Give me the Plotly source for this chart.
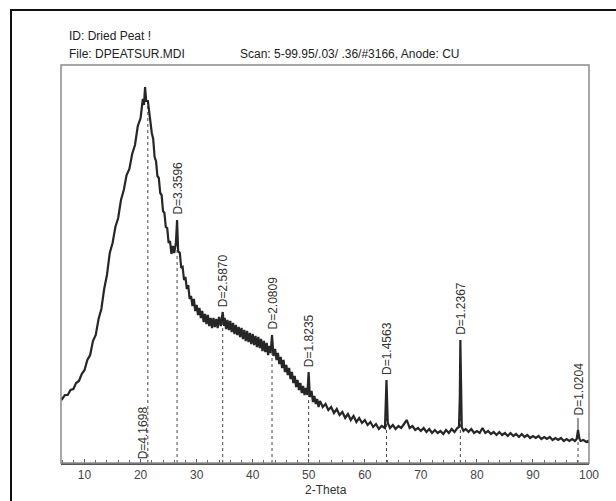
import plotly.graph_objects as go

# ---- data ----
two_theta = [5.8, 6.0, 6.5, 7.0, 7.5, 8.0, 8.5, 9.0, 9.5, 10.0, 10.5, 11.0, 11.5, 12.0, 12.5,
             13.0, 13.5, 14.0, 14.5, 15.0, 15.5, 16.0, 16.5, 17.0, 17.5, 18.0, 18.5, 19.0, 19.5,
             20.0, 20.4, 20.6, 20.8, 21.0, 21.3, 21.6, 22.0, 22.25, 22.5, 22.75, 23.0, 23.25, 23.5,
             23.75, 24.0, 24.25, 24.5, 24.75, 25.0, 25.25, 25.5, 25.75, 26.0, 26.3, 26.51, 26.7,
             27.0, 27.25, 27.5, 27.75, 28.0, 28.25, 28.5, 28.75, 29.0, 29.25, 29.5, 29.75,
             30.0, 30.25, 30.5, 30.75, 31.0, 31.25, 31.5, 31.75, 32.0, 32.25, 32.5, 32.75,
             33.0, 33.25, 33.5, 33.75, 34.0, 34.3, 34.65, 34.9, 35.0, 35.25, 35.5, 35.75,
             36.0, 36.25, 36.5, 36.75, 37.0, 37.25, 37.5, 37.75, 38.0, 38.25, 38.5, 38.75,
             39.0, 39.25, 39.5, 39.75, 40.0, 40.25, 40.5, 40.75, 41.0, 41.25, 41.5, 41.75,
             42.0, 42.25, 42.5, 42.75, 43.0, 43.2, 43.45, 43.7, 44.0, 44.25, 44.5, 44.75,
             45.0, 45.25, 45.5, 45.75, 46.0, 46.25, 46.5, 46.75, 47.0, 47.25, 47.5, 47.75,
             48.0, 48.25, 48.5, 48.75, 49.0, 49.25, 49.5, 49.75, 49.98, 50.2, 50.5, 50.75,
             51.0, 51.25, 51.5, 51.75, 52.0, 52.5, 53.0, 53.5, 54.0, 54.5, 55.0, 55.5,
             56.0, 56.5, 57.0, 57.5, 58.0, 58.5, 59.0, 59.5, 60.0, 60.5, 61.0, 61.5,
             62.0, 62.5, 63.0, 63.6, 63.87, 64.1,
             64.5, 65.0, 65.5, 66.0, 66.5, 67.0, 67.5, 68.0, 68.5, 69.0, 69.5, 70.0, 70.5, 71.0,
             71.5, 72.0, 72.5, 73.0, 73.5, 74.0, 74.5, 75.0, 75.5, 76.0, 76.5, 76.8, 76.95, 77.05,
             77.15, 77.3, 77.6, 78.0, 78.5, 79.0, 79.5, 80.0, 80.5, 81.0, 81.5, 82.0, 82.5, 83.0,
             83.5, 84.0, 84.5, 85.0, 85.5, 86.0, 86.5, 87.0, 87.5, 88.0, 88.5, 89.0, 89.5, 90.0,
             90.5, 91.0, 91.5, 92.0, 92.5, 93.0, 93.5, 94.0, 94.5, 95.0, 95.5, 96.0, 96.5, 97.0,
             97.5, 97.8, 98.04, 98.3, 98.5, 99.0, 99.5, 99.8, 100.0]
intensity = [65, 64, 68, 68, 73, 74, 80, 82, 89, 93, 103, 108, 122, 128, 144,
             154, 174, 188, 210, 220, 236, 245, 263, 273, 288, 294, 309, 318, 337,
             345, 364, 358, 376, 362, 362, 347, 330, 324, 306, 302, 287, 285, 270,
             268, 252, 250, 236, 235, 220, 222, 209, 217, 210, 220, 243, 212,
             210, 195, 196, 183, 186, 174, 178, 164, 167, 157, 164, 152,
             158, 148, 155, 145, 152, 141, 149, 139, 148, 137, 145, 135,
             145, 136, 144, 135, 146, 137, 151, 137, 145, 134, 143, 133,
             142, 131, 140, 129, 138, 128, 136, 126, 135, 124, 133, 122,
             132, 121, 130, 119, 129, 118, 127, 116, 126, 115, 124, 112,
             122, 111, 120, 108, 117, 110, 128, 107, 114, 103, 110, 99,
             106, 95, 103, 91, 98, 88, 95, 84, 91, 80, 87, 76,
             83, 73, 80, 70, 77, 68, 75, 68, 91, 66, 72, 61,
             67, 59, 64, 56, 62, 56, 59, 53, 56, 50, 54, 48,
             51, 45, 49, 43, 47, 41, 45, 40, 43, 38, 41, 36,
             39, 34, 37, 35, 83, 40,
             35, 38, 34, 37, 35, 39, 43, 35, 37, 33, 35, 32, 35, 31,
             34, 30, 33, 30, 32, 29, 33, 30, 34, 31, 35, 36, 65, 123,
             60, 36, 32, 34, 31, 34, 30, 32, 30, 35, 30, 32, 29, 31,
             28, 31, 28, 30, 27, 30, 27, 29, 26, 29, 26, 28, 25, 27,
             25, 27, 24, 26, 24, 26, 23, 25, 23, 25, 22, 24, 22, 24,
             22, 24, 33, 24, 22, 23, 21, 22, 20]

peak_2theta = [21.29, 26.51, 34.65, 43.45, 49.98, 63.87, 77.05, 98.04]
peak_d = ["D=4.1698", "D=3.3596", "D=2.5870", "D=2.0809", "D=1.8235", "D=1.4563", "D=1.2367", "D=1.0204"]
peak_height = [362, 243, 151, 128, 91, 83, 123, 33]

x_ticks = [10, 20, 30, 40, 50, 60, 70, 80, 90, 100]

title_id = "ID: Dried Peat !"
title_file = "File: DPEATSUR.MDI"
title_scan = "Scan: 5-99.95/.03/ .36/#3166, Anode: CU"
x_title = "2-Theta"

FONT = "Liberation Sans Narrow, Arial Narrow, Liberation Sans, Arial, sans-serif"

fig = go.Figure()
fig.add_trace(go.Scatter(x=two_theta, y=intensity, mode="lines",
                         line=dict(color="#262626", width=2.2), hoverinfo="skip",
                         showlegend=False))

shapes = []
annotations = []
for i, (px, d, h) in enumerate(zip(peak_2theta, peak_d, peak_height)):
    shapes.append(dict(type="line", xref="x", yref="y", x0=px, x1=px, y0=0, y1=h,
                       line=dict(color="#444", width=1, dash="dot"), layer="below"))
    if i == 0:
        annotations.append(dict(x=px, y=0, xref="x", yref="y", text=d, textangle=-90,
                                showarrow=False, xanchor="center", yanchor="bottom",
                                xshift=-5, yshift=2,
                                font=dict(family=FONT, size=12, color="#333")))
    else:
        gap = 12 if i == len(peak_d) - 1 else 3
        if gap > 3:
            shapes.append(dict(type="line", xref="x", yref="y", x0=px, x1=px, y0=h, y1=h + gap,
                               line=dict(color="#333", width=1)))
        annotations.append(dict(x=px, y=h, xref="x", yref="y", text=d, textangle=-90,
                                showarrow=False, xanchor="center", yanchor="bottom",
                                yshift=gap,
                                font=dict(family=FONT, size=12, color="#333")))

# plot frame (gray) and outer black border
shapes.append(dict(type="rect", xref="paper", yref="paper", x0=0, x1=1, y0=0, y1=1,
                   line=dict(color="#8a8a8a", width=1.5)))
shapes.append(dict(type="rect", xref="paper", yref="paper",
                   x0=(11 - 61) / 528, x1=(625 - 61) / 528,
                   y0=-(510 - 463) / 398, y1=1 + (65 - 10) / 398,
                   line=dict(color="#111", width=2)))

annotations += [
    dict(x=(67 - 61) / 528, y=1 + (65 - 36) / 398, xref="paper", yref="paper", text=title_id,
         showarrow=False, xanchor="left", yanchor="middle",
         font=dict(family=FONT, size=12, color="#222")),
    dict(x=(67 - 61) / 528, y=1 + (65 - 54) / 398, xref="paper", yref="paper", text=title_file,
         showarrow=False, xanchor="left", yanchor="middle",
         font=dict(family=FONT, size=12, color="#222")),
    dict(x=(238 - 61) / 528, y=1 + (65 - 54) / 398, xref="paper", yref="paper", text=title_scan,
         showarrow=False, xanchor="left", yanchor="middle",
         font=dict(family=FONT, size=12, color="#222")),
    dict(x=(326 - 61) / 528, y=-(490 - 463) / 398, xref="paper", yref="paper", text=x_title,
         showarrow=False, xanchor="center", yanchor="middle",
         font=dict(family=FONT, size=12, color="#333")),
]

fig.update_layout(
    width=616, height=501,
    margin=dict(l=61, r=27, t=65, b=38),
    paper_bgcolor="white", plot_bgcolor="white",
    showlegend=False,
    xaxis=dict(range=[5.8, 100], tickmode="array", tickvals=x_ticks,
               ticks="inside", ticklen=4, tickcolor="#555", tickwidth=1,
               showline=True, linecolor="#555", linewidth=1.5,
               showgrid=False, zeroline=False,
               minor=dict(dtick=2, tick0=0, ticks="inside", ticklen=3, tickcolor="#666"),
               tickfont=dict(family=FONT, size=12, color="#444")),
    yaxis=dict(range=[0, 398], visible=False, showgrid=False, zeroline=False),
    shapes=shapes, annotations=annotations,
)

fig.write_html("out.html", config={"displayModeBar": False},
               post_script="document.body.style.margin='0';document.body.style.padding='0';")
